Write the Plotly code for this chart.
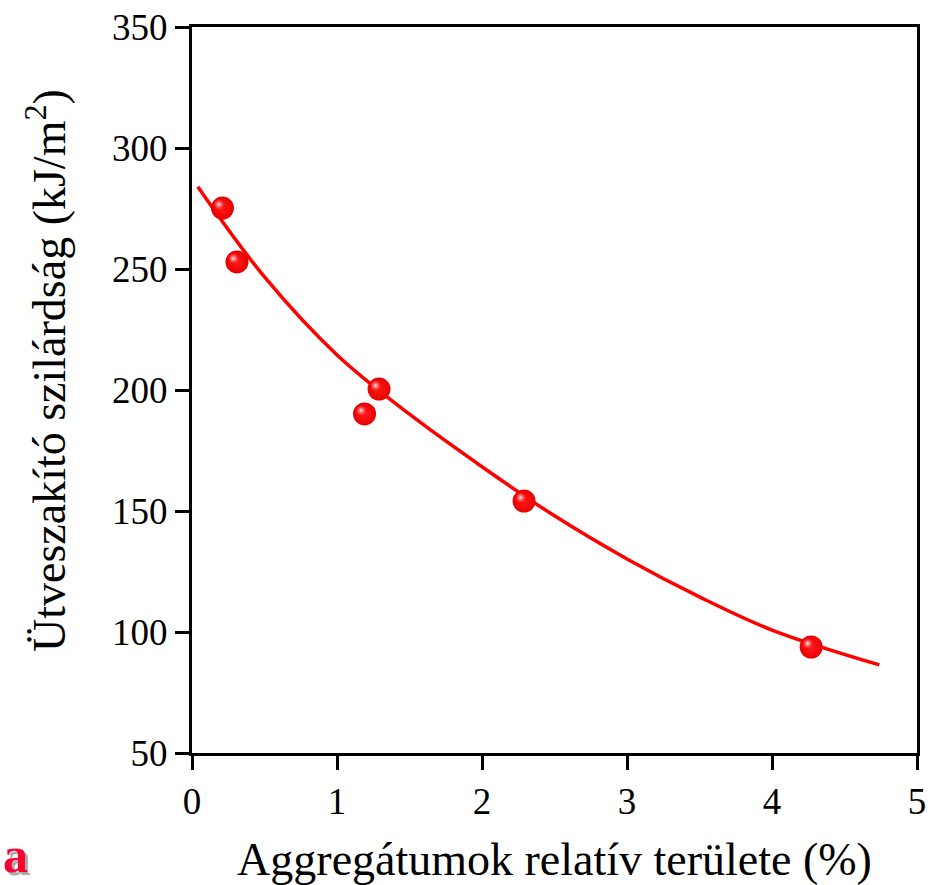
import plotly.graph_objects as go

# Measured points: relative aggregate area (%) vs. impact strength (kJ/m2)
area_pct = [0.21, 0.31, 1.19, 1.29, 2.29, 4.27]
impact_strength = [275.2, 252.9, 190.1, 200.4, 154.1, 93.8]

# Fitted trend line, sampled along its length
fit_x = [0.04, 0.5, 1.0, 1.5, 2.0, 2.5, 3.0, 3.5, 4.0, 4.74]
fit_y = [284.0, 246.7, 214.5, 190.0, 168.3, 148.0, 130.2, 114.5, 100.8, 86.4]

x_ticks = [0, 1, 2, 3, 4, 5]
y_ticks = [50, 100, 150, 200, 250, 300, 350]

FONT = "Liberation Serif, Times New Roman, serif"
RED = "#ff0000"

X_RANGE = [0, 5]
Y_RANGE = [50, 350]
# highlight spot sits a few pixels up-left of each sphere centre
dx = 3.5 / 145.0
dy = 3.5 / 2.42

fig = go.Figure()

fig.add_trace(go.Scatter(
    x=fit_x, y=fit_y, mode="lines",
    line=dict(color=RED, width=3.5, shape="spline", smoothing=1.0),
    hoverinfo="skip", showlegend=False,
))

fig.add_trace(go.Scatter(
    x=area_pct, y=impact_strength, mode="markers",
    marker=dict(size=23, color="#e80000", line=dict(width=0),
                gradient=dict(type="radial", color="#ff1a1a")),
    showlegend=False,
))

# specular highlight on each sphere, drawn on a slightly shifted overlay axis pair
fig.add_trace(go.Scatter(
    x=area_pct, y=impact_strength, mode="markers",
    xaxis="x2", yaxis="y2",
    marker=dict(size=11, color="rgba(255,90,90,0)", line=dict(width=0),
                gradient=dict(type="radial", color="#fff0f0")),
    showlegend=False, hoverinfo="skip",
))

axis_common = dict(
    showgrid=False, zeroline=False, automargin=False,
    showline=True, linecolor="black", linewidth=3, mirror=True,
    ticks="outside", ticklen=14, tickwidth=3, tickcolor="black",
    tickfont=dict(family=FONT, size=37, color="black"),
)

fig.update_layout(
    width=934, height=885,
    margin=dict(l=192, r=17, t=27, b=132),
    paper_bgcolor="white", plot_bgcolor="white",
    xaxis=dict(range=X_RANGE, tickvals=x_ticks,
               title=dict(text="Aggregátumok relatív területe (%)",
                          font=dict(family=FONT, size=46, color="black"),
                          standoff=24),
               **axis_common),
    yaxis=dict(range=Y_RANGE, tickvals=y_ticks, **axis_common),
    xaxis2=dict(range=[X_RANGE[0] + dx, X_RANGE[1] + dx], overlaying="x",
                visible=False, automargin=False),
    yaxis2=dict(range=[Y_RANGE[0] - dy, Y_RANGE[1] - dy], overlaying="y",
                visible=False, automargin=False),
    annotations=[
        dict(text="Ütveszakító szilárdság (kJ/m<sup>2</sup>)",
             xref="paper", yref="paper", x=-0.2014, y=0.5275,
             xanchor="center", yanchor="middle", textangle=-90, showarrow=False,
             font=dict(family=FONT, size=46, color="black")),
        dict(text="<b>a</b>", xref="paper", yref="paper", x=-0.2634, y=-0.141,
             xanchor="left", yanchor="middle", showarrow=False,
             font=dict(family=FONT, size=50, color="#ff0033",
                       shadow="3px 3px 1px #a8a8a8")),
    ],
)

fig.write_html("out.html")
